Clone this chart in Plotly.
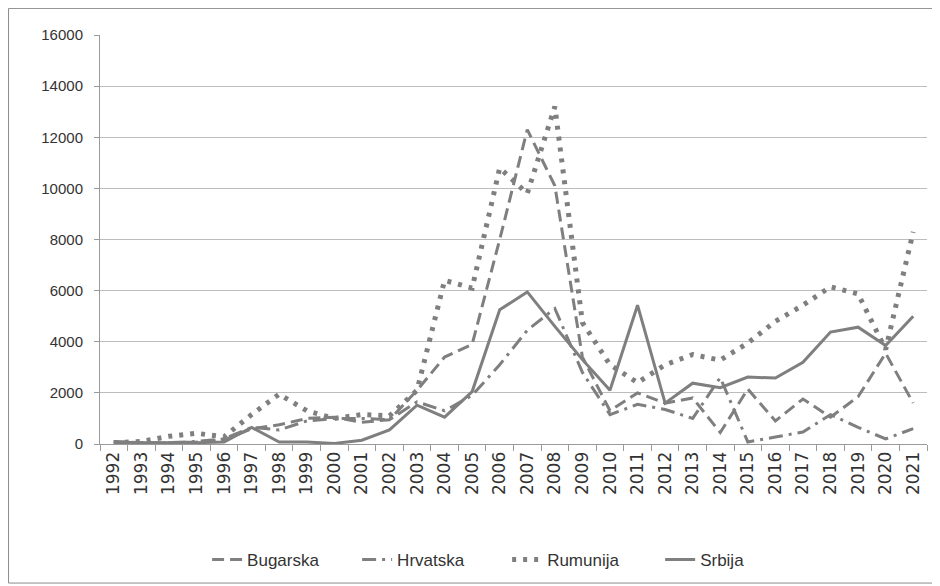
import plotly.graph_objects as go

years = [str(y) for y in range(1992, 2022)]

bugarska = [100, 50, 50, 80, 150, 600, 750, 1000, 1050, 850, 950, 2100, 3400, 3900, 8000,
            12300, 10100, 3400, 1300, 2000, 1600, 1800, 450, 2150, 900, 1760, 1050, 1850, 3550, 1600]
hrvatska = [50, 30, 50, 100, 200, 650, 550, 900, 1000, 1000, 950, 1650, 1300, 1900, 3100,
            4450, 5300, 2800, 1150, 1550, 1350, 1000, 2600, 80, 270, 470, 1150, 650, 200, 600]
rumunija = [50, 100, 300, 420, 280, 1150, 1950, 1300, 1000, 1150, 1100, 2100, 6400, 6100, 10800,
            9800, 13200, 4750, 3100, 2400, 3100, 3500, 3280, 3950, 4800, 5430, 6150, 5870, 3700, 8300]
srbija = [80, 50, 50, 50, 80, 650, 80, 80, 20, 150, 550, 1520, 1050, 2050, 5250,
          5950, 4600, 3300, 2100, 5430, 1600, 2380, 2200, 2620, 2580, 3200, 4380, 4570, 3850, 5000]

y_ticks = [0, 2000, 4000, 6000, 8000, 10000, 12000, 14000, 16000]

GRAY = "#7f7f7f"
NARROW = "Liberation Sans Narrow, Arial Narrow, Liberation Sans, sans-serif"

fig = go.Figure()
series = [
    ("Bugarska", bugarska, "12px,6px", 3, "legend", 0.1295),
    ("Hrvatska", hrvatska, "14px,6px,3px,6px", 3, "legend2", 0.3109),
    ("Rumunija", rumunija, "4px,7px", 5, "legend3", 0.4923),
    ("Srbija", srbija, "solid", 3, "legend4", 0.6773),
]
legend_cfg = {}
for name, vals, dash, w, lg, lx in series:
    fig.add_trace(go.Scatter(
        x=years, y=vals, name=name, mode="lines", legend=lg,
        line=dict(color=GRAY, width=w, dash=dash),
    ))
    legend_cfg[lg] = dict(orientation="h", x=lx, xanchor="left", y=-0.2836, yanchor="middle",
                          font=dict(family=NARROW, size=17, color="#333333"),
                          bgcolor="rgba(0,0,0,0)")

fig.update_layout(
    width=932, height=578,
    margin=dict(l=92, r=13, t=27, b=142, autoexpand=False),
    paper_bgcolor="white", plot_bgcolor="white",
    font=dict(family=NARROW, color="#333333"),
    showlegend=True,
    xaxis=dict(
        type="category", range=[-0.5, 29.5], automargin=False,
        showgrid=False, showline=True, linecolor="#9a9a9a", linewidth=1,
        ticks="outside", tickson="boundaries", ticklen=6, tickcolor="#9a9a9a",
        tickangle=-90, tickfont=dict(family="DejaVu Sans, sans-serif", size=17, color="#333333"),
        zeroline=False,
    ),
    yaxis=dict(
        range=[0, 16000], tickvals=y_ticks, ticktext=[str(v) for v in y_ticks],
        automargin=False,
        showgrid=True, gridcolor="#bdbdbd", gridwidth=1,
        showline=True, linecolor="#9a9a9a", linewidth=1,
        ticks="outside", ticklen=5, tickcolor="#9a9a9a",
        ticklabelstandoff=8,
        tickfont=dict(family=NARROW, size=15, color="#333333"),
        zeroline=False,
    ),
    shapes=[dict(type="rect", xref="paper", yref="paper",
                 x0=-0.1106, x1=1.0097, y0=-0.34, y1=1.065,
                 line=dict(color="#8c8c8c", width=1), fillcolor="rgba(0,0,0,0)", layer="below")],
    **legend_cfg,
)

fig.write_html("out.html")
